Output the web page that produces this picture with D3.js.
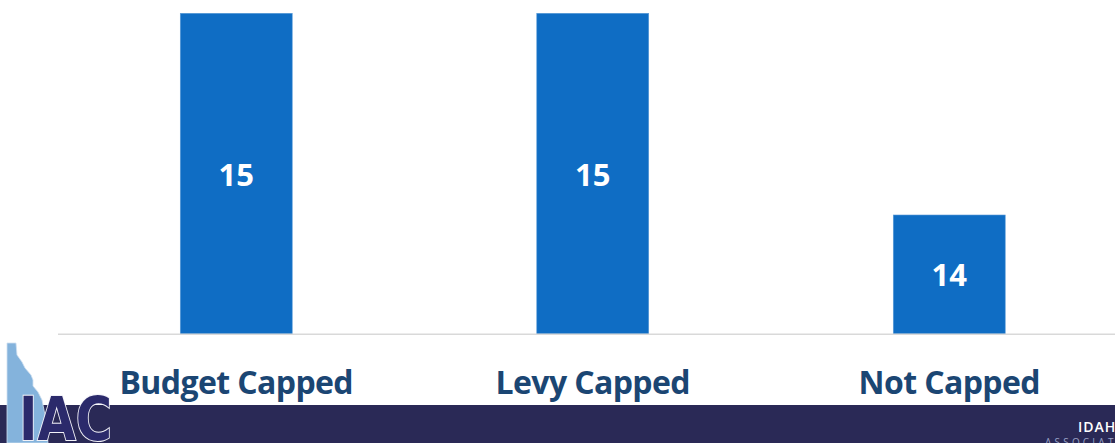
<!DOCTYPE html>
<html lang="en">
<head>
<meta charset="UTF-8">
<script src="https://d3js.org/d3.v7.min.js"></script>
<title>Capped counties</title>
<style>
  body { margin: 0; background: #fff; }
  svg { display: block; }
  .cat { font-family: "Open Sans", sans-serif; font-weight: 700; fill: #1b4673; }
  .val { font-family: "Open Sans", sans-serif; font-weight: 700; fill: #fff; }
</style>
</head>
<body>
<svg id="chart" width="1115" height="443"></svg>
<script>
  const categories = ["Budget Capped", "Levy Capped", "Not Capped"]
  const counts = [15, 15, 14]
  const yDomain = [13.41, 15]

  const W = 1115, H = 443
  const svg = d3.select("#chart")

  const x = d3.scaleBand().domain(categories).range([58, 1127.5])
    .paddingInner(0.686).paddingOuter(0.343)
  const y = d3.scaleLinear().domain(yDomain).range([334, 13.3])

  // bars
  svg.selectAll("rect.bar").data(counts).enter().append("rect")
    .attr("class", "bar")
    .attr("x", (d, i) => x(categories[i]))
    .attr("y", d => y(d))
    .attr("width", x.bandwidth())
    .attr("height", d => y.range()[0] - y(d))
    .attr("fill", "#0f6dc4")
    .attr("stroke", "#5b9bd8")
    .attr("stroke-width", 0.6)

  // baseline
  svg.append("line")
    .attr("x1", 58).attr("x2", W)
    .attr("y1", 334.3).attr("y2", 334.3)
    .attr("stroke", "#d9d9d9").attr("stroke-width", 1.5)

  // value labels
  svg.selectAll("text.val").data(counts).enter().append("text")
    .attr("class", "val")
    .attr("x", (d, i) => x(categories[i]) + x.bandwidth() / 2)
    .attr("y", d => (y(d) + y.range()[0]) / 2 + 12)
    .attr("text-anchor", "middle")
    .attr("font-size", 31)
    .text(d => d)

  // category labels
  svg.selectAll("text.cat").data(categories).enter().append("text")
    .attr("class", "cat")
    .attr("x", d => x(d) + x.bandwidth() / 2)
    .attr("y", 394)
    .attr("text-anchor", "middle")
    .attr("font-size", 32)
    .attr("letter-spacing", -0.6)
    .text(d => d)

  // footer band
  svg.append("rect").attr("x", 0).attr("y", 405).attr("width", W).attr("height", H - 405)
    .attr("fill", "#2a2956")

  // logo: Idaho outline + IAC
  const idaho = [[7,343],[16,343],[17,355],[22,362],[25,368],[31,375],[33,380],[33,386],[38,392],[42,400],[46,420],[48,443],[7,443]]
  svg.append("path")
    .attr("d", d3.line()(idaho) + "Z")
    .attr("fill", "#84b3dc").attr("stroke", "#cfe0f0").attr("stroke-width", 0.8)

  svg.append("text")
    .attr("x", 19).attr("y", 440)
    .attr("font-family", "DejaVu Sans, sans-serif")
    .attr("font-weight", 700).attr("font-size", 60)
    .attr("textLength", 93).attr("lengthAdjust", "spacingAndGlyphs")
    .attr("fill", "#2b2a6b").attr("stroke", "#f2f2f8").attr("stroke-width", 2)
    .attr("paint-order", "stroke")
    .text("IAC")

  // org name, runs off the right edge
  svg.append("text")
    .attr("x", 1078).attr("y", 432)
    .attr("font-family", "Open Sans, sans-serif").attr("font-weight", 600)
    .attr("font-size", 14).attr("letter-spacing", 1).attr("fill", "#fff")
    .text("IDAHO")
  svg.append("text")
    .attr("x", 1045).attr("y", 446)
    .attr("font-family", "Open Sans, sans-serif")
    .attr("font-size", 10).attr("letter-spacing", 3.2).attr("fill", "#9aa3c6")
    .text("ASSOCIATION OF COUNTIES")
</script>
</body>
</html>
